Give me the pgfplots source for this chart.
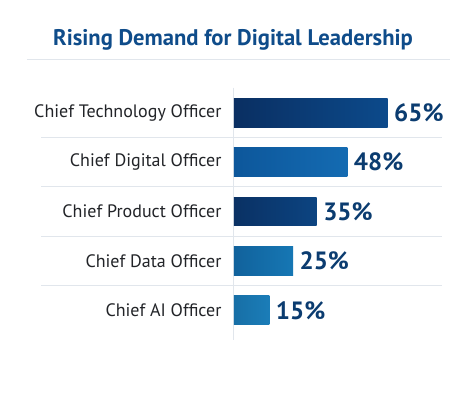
\documentclass[border=0pt]{standalone}
\usepackage{pgfplots}
\pgfplotsset{compat=1.18}
\usepackage{fontspec}
\setmainfont{PT Sans}
\definecolor{titleblue}{HTML}{0F4C8A}
\definecolor{valblue}{HTML}{0B3C70}
\definecolor{sepgray}{HTML}{E1E6EC}
\definecolor{labgray}{HTML}{222428}
\definecolor{aL}{HTML}{0A2F62}\definecolor{aR}{HTML}{0C4A8B}
\definecolor{bL}{HTML}{0D579B}\definecolor{bR}{HTML}{146BB2}
\definecolor{cL}{HTML}{0A3164}\definecolor{cR}{HTML}{0C4481}
\definecolor{dL}{HTML}{11629C}\definecolor{dR}{HTML}{1677B4}
\definecolor{eL}{HTML}{176FA6}\definecolor{eR}{HTML}{1B7DB8}
\begin{document}
\begin{tikzpicture}
\path[use as bounding box, fill=white] (0,0) rectangle (472pt,406pt);
\node[anchor=base, font=\bfseries\fontsize{22.6}{28}\selectfont, text=titleblue] at (233pt,360.3pt) {Rising Demand for Digital Leadership};
\draw[sepgray, line width=1pt] (27pt,346.7pt) -- (450pt,346.7pt);
\begin{axis}[
  at={(234pt,66pt)}, anchor=south west,
  scale only axis, width=208pt, height=252pt,
  xmin=0, xmax=88, ymin=-0.5, ymax=4.6, y dir=reverse,
  xbar, bar width=28.7pt,
  axis line style={draw=none},
  xtick=\empty, ytick={0,1,2,3,4},
  yticklabels={Chief Technology Officer,Chief Digital Officer,Chief Product Officer,Chief Data Officer,Chief AI Officer},
  major tick length=0pt,
  yticklabel style={font=\fontsize{18}{20}\selectfont, text=labgray, anchor=east, xshift=-9pt},
  clip=false,
  /pgf/number format/assume math mode=true,
  nodes near coords={\pgfmathprintnumber{\pgfplotspointmeta}\%},
  nodes near coords style={font=\bfseries\fontsize{25}{30}\selectfont, text=valblue, anchor=west, xshift=3pt},
  every axis plot/.append style={draw=none, bar shift=0pt},
]
\draw[sepgray, line width=1pt] (axis cs:0,-0.51) -- (axis cs:0,4.6);
\draw[sepgray, line width=1pt] (axis cs:-81.6,0.5) -- (axis cs:88,0.5);
\draw[sepgray, line width=1pt] (axis cs:-81.6,1.5) -- (axis cs:88,1.5);
\draw[sepgray, line width=1pt] (axis cs:-81.6,2.5) -- (axis cs:88,2.5);
\draw[sepgray, line width=1pt] (axis cs:-81.6,3.5) -- (axis cs:88,3.5);
\addplot[left color=aL, right color=aR] coordinates {(65,0)};
\addplot[left color=bL, right color=bR] coordinates {(48,1)};
\addplot[left color=cL, right color=cR] coordinates {(35,2)};
\addplot[left color=dL, right color=dR] coordinates {(25,3)};
\addplot[left color=eL, right color=eR] coordinates {(15,4)};
\end{axis}
\end{tikzpicture}
\end{document}
